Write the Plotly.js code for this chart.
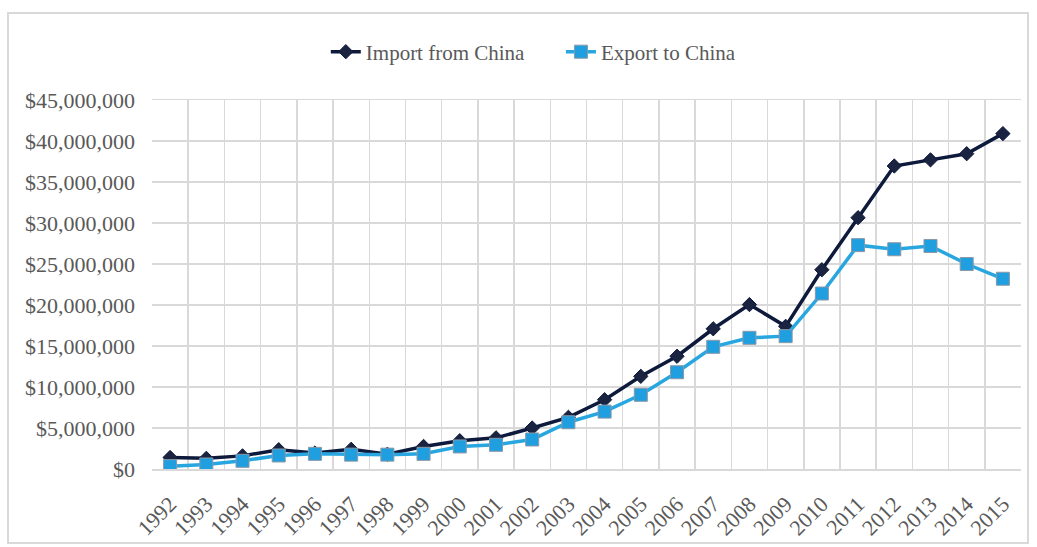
<!DOCTYPE html>
<html>
<head>
<meta charset="utf-8">
<script src="https://cdn.plot.ly/plotly-3.0.1.min.js"></script>
<style>
html,body{margin:0;padding:0;background:#fff;}
#frame{position:absolute;left:7px;top:12px;width:1022px;height:532px;border:2px solid #d9d9d9;box-sizing:border-box;pointer-events:none;}
#chart{position:absolute;left:0;top:0;width:1037px;height:547px;}
</style>
</head>
<body>
<div id="chart"></div>
<div id="frame"></div>
<script>
const years = ["1992","1993","1994","1995","1996","1997","1998","1999","2000","2001","2002","2003",
               "2004","2005","2006","2007","2008","2009","2010","2011","2012","2013","2014","2015"];
const importFromChina = [1400000,1300000,1600000,2350000,1950000,2400000,1800000,2750000,3450000,3800000,5000000,6300000,
                         8450000,11300000,13750000,17100000,20050000,17400000,24300000,30650000,36950000,37700000,38450000,40900000];
const exportToChina = [350000,550000,1000000,1650000,1850000,1750000,1750000,1850000,2750000,2950000,3600000,5700000,
                       7000000,9050000,11800000,14900000,16000000,16200000,21400000,27300000,26800000,27200000,25000000,23200000];
const seriesNames = ["Import from China","Export to China"];

const serif = "Liberation Serif, Times New Roman, serif";

const traces = [
  {
    x: years, y: importFromChina, name: seriesNames[0] + "\u00a0\u00a0\u00a0\u00a0\u00a0\u00a0", type: "scatter", mode: "lines+markers",
    line: {color: "#0e1a3c", width: 3.5},
    marker: {symbol: "diamond", size: 11, color: "#1a2440", line: {color: "#0e1a3c", width: 1}}
  },
  {
    x: years, y: exportToChina, name: seriesNames[1], type: "scatter", mode: "lines+markers",
    line: {color: "#27a6e0", width: 3.5},
    marker: {symbol: "square", size: 13, color: "#1f9fe0", line: {color: "#8b98a6", width: 1}}
  }
];

const layout = {
  width: 1037, height: 547,
  margin: {l: 152, r: 16, t: 100, b: 78},
  paper_bgcolor: "#ffffff", plot_bgcolor: "#ffffff",
  font: {family: serif, color: "#595959"},
  showlegend: true,
  legend: {
    orientation: "h", x: 0.2, xanchor: "left", y: 1.13, yanchor: "middle",
    font: {family: serif, size: 21, color: "#595959"},
    bgcolor: "rgba(0,0,0,0)", traceorder: "normal"
  },
  xaxis: {
    type: "category", range: [-0.5, years.length - 0.5], autorange: false,
    tickson: "boundaries", showgrid: true, gridcolor: "#d9d9d9", gridwidth: 1.5,
    showline: true, linecolor: "#d9d9d9", linewidth: 1.5, mirror: true,
    ticks: "", tickangle: -45, tickfont: {family: serif, size: 22, color: "#595959"},
    ticklabelstandoff: 12, zeroline: false, fixedrange: true
  },
  yaxis: {
    range: [0, 45000000], autorange: false, dtick: 5000000, tick0: 0, tickprefix: "$", tickformat: ",d",
    showgrid: true, gridcolor: "#d9d9d9", gridwidth: 1.5, zeroline: false,
    showline: false, ticks: "", tickfont: {family: serif, size: 22, color: "#595959"},
    ticklabelstandoff: 16, fixedrange: true
  }
};

Plotly.newPlot("chart", traces, layout, {displayModeBar: false, staticPlot: true});
</script>
</body>
</html>
